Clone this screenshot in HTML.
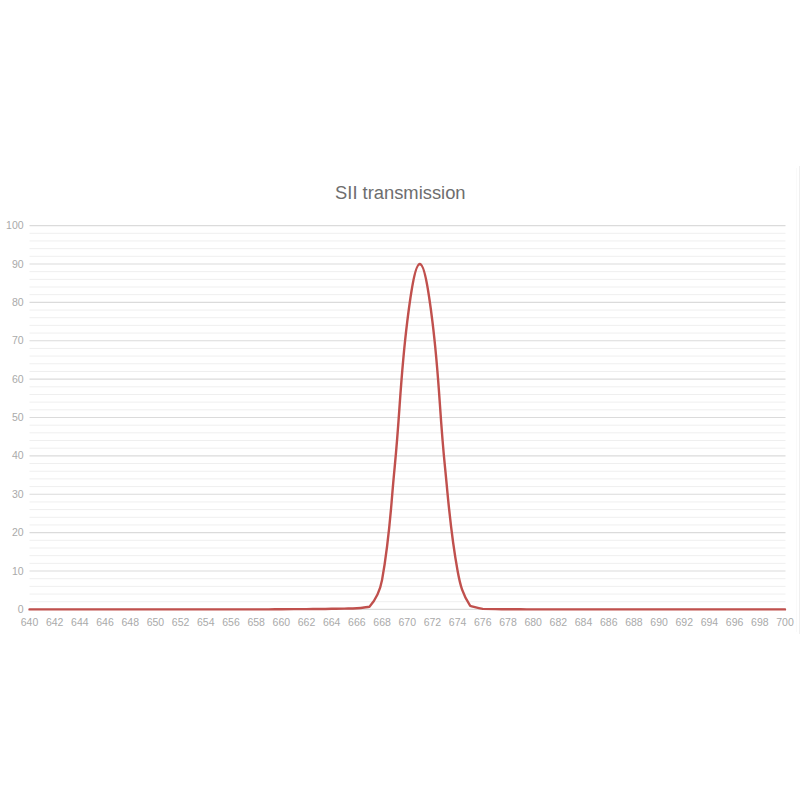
<!DOCTYPE html>
<html><head><meta charset="utf-8"><style>
html,body{margin:0;padding:0;background:#fff;width:800px;height:800px;overflow:hidden}
svg{display:block;font-family:"Liberation Sans",sans-serif}
</style></head><body>
<svg width="800" height="800" viewBox="0 0 800 800">
<rect width="800" height="800" fill="#fff"/>
<line x1="799.5" y1="166" x2="799.5" y2="634" stroke="#efefef" stroke-width="1"/>
<line x1="796.5" y1="168" x2="796.5" y2="632" stroke="#fafafa" stroke-width="1"/>
<g><line x1="29.5" y1="609.40" x2="785.5" y2="609.40" stroke="#dbdbdb" stroke-width="1.2"/>
<line x1="29.5" y1="601.72" x2="785.5" y2="601.72" stroke="#efefef" stroke-width="1.0"/>
<line x1="29.5" y1="594.05" x2="785.5" y2="594.05" stroke="#efefef" stroke-width="1.0"/>
<line x1="29.5" y1="586.37" x2="785.5" y2="586.37" stroke="#efefef" stroke-width="1.0"/>
<line x1="29.5" y1="578.70" x2="785.5" y2="578.70" stroke="#efefef" stroke-width="1.0"/>
<line x1="29.5" y1="571.02" x2="785.5" y2="571.02" stroke="#dbdbdb" stroke-width="1.2"/>
<line x1="29.5" y1="563.34" x2="785.5" y2="563.34" stroke="#efefef" stroke-width="1.0"/>
<line x1="29.5" y1="555.67" x2="785.5" y2="555.67" stroke="#efefef" stroke-width="1.0"/>
<line x1="29.5" y1="547.99" x2="785.5" y2="547.99" stroke="#efefef" stroke-width="1.0"/>
<line x1="29.5" y1="540.32" x2="785.5" y2="540.32" stroke="#efefef" stroke-width="1.0"/>
<line x1="29.5" y1="532.64" x2="785.5" y2="532.64" stroke="#dbdbdb" stroke-width="1.2"/>
<line x1="29.5" y1="524.96" x2="785.5" y2="524.96" stroke="#efefef" stroke-width="1.0"/>
<line x1="29.5" y1="517.29" x2="785.5" y2="517.29" stroke="#efefef" stroke-width="1.0"/>
<line x1="29.5" y1="509.61" x2="785.5" y2="509.61" stroke="#efefef" stroke-width="1.0"/>
<line x1="29.5" y1="501.94" x2="785.5" y2="501.94" stroke="#efefef" stroke-width="1.0"/>
<line x1="29.5" y1="494.26" x2="785.5" y2="494.26" stroke="#dbdbdb" stroke-width="1.2"/>
<line x1="29.5" y1="486.58" x2="785.5" y2="486.58" stroke="#efefef" stroke-width="1.0"/>
<line x1="29.5" y1="478.91" x2="785.5" y2="478.91" stroke="#efefef" stroke-width="1.0"/>
<line x1="29.5" y1="471.23" x2="785.5" y2="471.23" stroke="#efefef" stroke-width="1.0"/>
<line x1="29.5" y1="463.56" x2="785.5" y2="463.56" stroke="#efefef" stroke-width="1.0"/>
<line x1="29.5" y1="455.88" x2="785.5" y2="455.88" stroke="#dbdbdb" stroke-width="1.2"/>
<line x1="29.5" y1="448.20" x2="785.5" y2="448.20" stroke="#efefef" stroke-width="1.0"/>
<line x1="29.5" y1="440.53" x2="785.5" y2="440.53" stroke="#efefef" stroke-width="1.0"/>
<line x1="29.5" y1="432.85" x2="785.5" y2="432.85" stroke="#efefef" stroke-width="1.0"/>
<line x1="29.5" y1="425.18" x2="785.5" y2="425.18" stroke="#efefef" stroke-width="1.0"/>
<line x1="29.5" y1="417.50" x2="785.5" y2="417.50" stroke="#dbdbdb" stroke-width="1.2"/>
<line x1="29.5" y1="409.82" x2="785.5" y2="409.82" stroke="#efefef" stroke-width="1.0"/>
<line x1="29.5" y1="402.15" x2="785.5" y2="402.15" stroke="#efefef" stroke-width="1.0"/>
<line x1="29.5" y1="394.47" x2="785.5" y2="394.47" stroke="#efefef" stroke-width="1.0"/>
<line x1="29.5" y1="386.80" x2="785.5" y2="386.80" stroke="#efefef" stroke-width="1.0"/>
<line x1="29.5" y1="379.12" x2="785.5" y2="379.12" stroke="#dbdbdb" stroke-width="1.2"/>
<line x1="29.5" y1="371.44" x2="785.5" y2="371.44" stroke="#efefef" stroke-width="1.0"/>
<line x1="29.5" y1="363.77" x2="785.5" y2="363.77" stroke="#efefef" stroke-width="1.0"/>
<line x1="29.5" y1="356.09" x2="785.5" y2="356.09" stroke="#efefef" stroke-width="1.0"/>
<line x1="29.5" y1="348.42" x2="785.5" y2="348.42" stroke="#efefef" stroke-width="1.0"/>
<line x1="29.5" y1="340.74" x2="785.5" y2="340.74" stroke="#dbdbdb" stroke-width="1.2"/>
<line x1="29.5" y1="333.06" x2="785.5" y2="333.06" stroke="#efefef" stroke-width="1.0"/>
<line x1="29.5" y1="325.39" x2="785.5" y2="325.39" stroke="#efefef" stroke-width="1.0"/>
<line x1="29.5" y1="317.71" x2="785.5" y2="317.71" stroke="#efefef" stroke-width="1.0"/>
<line x1="29.5" y1="310.04" x2="785.5" y2="310.04" stroke="#efefef" stroke-width="1.0"/>
<line x1="29.5" y1="302.36" x2="785.5" y2="302.36" stroke="#dbdbdb" stroke-width="1.2"/>
<line x1="29.5" y1="294.68" x2="785.5" y2="294.68" stroke="#efefef" stroke-width="1.0"/>
<line x1="29.5" y1="287.01" x2="785.5" y2="287.01" stroke="#efefef" stroke-width="1.0"/>
<line x1="29.5" y1="279.33" x2="785.5" y2="279.33" stroke="#efefef" stroke-width="1.0"/>
<line x1="29.5" y1="271.66" x2="785.5" y2="271.66" stroke="#efefef" stroke-width="1.0"/>
<line x1="29.5" y1="263.98" x2="785.5" y2="263.98" stroke="#dbdbdb" stroke-width="1.2"/>
<line x1="29.5" y1="256.30" x2="785.5" y2="256.30" stroke="#efefef" stroke-width="1.0"/>
<line x1="29.5" y1="248.63" x2="785.5" y2="248.63" stroke="#efefef" stroke-width="1.0"/>
<line x1="29.5" y1="240.95" x2="785.5" y2="240.95" stroke="#efefef" stroke-width="1.0"/>
<line x1="29.5" y1="233.28" x2="785.5" y2="233.28" stroke="#efefef" stroke-width="1.0"/>
<line x1="29.5" y1="225.60" x2="785.5" y2="225.60" stroke="#dbdbdb" stroke-width="1.2"/></g>
<g font-size="10.5" fill="#aaaaaa"><text x="23.6" y="613.00" text-anchor="end">0</text>
<text x="23.6" y="574.62" text-anchor="end">10</text>
<text x="23.6" y="536.24" text-anchor="end">20</text>
<text x="23.6" y="497.86" text-anchor="end">30</text>
<text x="23.6" y="459.48" text-anchor="end">40</text>
<text x="23.6" y="421.10" text-anchor="end">50</text>
<text x="23.6" y="382.72" text-anchor="end">60</text>
<text x="23.6" y="344.34" text-anchor="end">70</text>
<text x="23.6" y="305.96" text-anchor="end">80</text>
<text x="23.6" y="267.58" text-anchor="end">90</text>
<text x="23.6" y="229.20" text-anchor="end">100</text></g>
<g font-size="10.5" fill="#aaaaaa"><text x="29.50" y="626" text-anchor="middle">640</text>
<text x="54.68" y="626" text-anchor="middle">642</text>
<text x="79.87" y="626" text-anchor="middle">644</text>
<text x="105.05" y="626" text-anchor="middle">646</text>
<text x="130.23" y="626" text-anchor="middle">648</text>
<text x="155.42" y="626" text-anchor="middle">650</text>
<text x="180.60" y="626" text-anchor="middle">652</text>
<text x="205.78" y="626" text-anchor="middle">654</text>
<text x="230.97" y="626" text-anchor="middle">656</text>
<text x="256.15" y="626" text-anchor="middle">658</text>
<text x="281.33" y="626" text-anchor="middle">660</text>
<text x="306.52" y="626" text-anchor="middle">662</text>
<text x="331.70" y="626" text-anchor="middle">664</text>
<text x="356.88" y="626" text-anchor="middle">666</text>
<text x="382.07" y="626" text-anchor="middle">668</text>
<text x="407.25" y="626" text-anchor="middle">670</text>
<text x="432.43" y="626" text-anchor="middle">672</text>
<text x="457.62" y="626" text-anchor="middle">674</text>
<text x="482.80" y="626" text-anchor="middle">676</text>
<text x="507.98" y="626" text-anchor="middle">678</text>
<text x="533.17" y="626" text-anchor="middle">680</text>
<text x="558.35" y="626" text-anchor="middle">682</text>
<text x="583.53" y="626" text-anchor="middle">684</text>
<text x="608.72" y="626" text-anchor="middle">686</text>
<text x="633.90" y="626" text-anchor="middle">688</text>
<text x="659.08" y="626" text-anchor="middle">690</text>
<text x="684.27" y="626" text-anchor="middle">692</text>
<text x="709.45" y="626" text-anchor="middle">694</text>
<text x="734.63" y="626" text-anchor="middle">696</text>
<text x="759.82" y="626" text-anchor="middle">698</text>
<text x="785.00" y="626" text-anchor="middle">700</text></g>
<text x="400.3" y="199.3" text-anchor="middle" font-size="18.35" fill="#6e6e6e">SII transmission</text>
<path d="M29.50 609.40 C34.54 609.40 37.05 609.40 42.09 609.40 C47.13 609.40 49.65 609.40 54.68 609.40 C59.72 609.40 62.24 609.40 67.28 609.40 C72.31 609.40 74.83 609.40 79.87 609.40 C84.90 609.40 87.42 609.40 92.46 609.40 C97.50 609.40 100.01 609.40 105.05 609.40 C110.09 609.40 112.61 609.40 117.64 609.40 C122.68 609.40 125.20 609.40 130.23 609.40 C135.27 609.40 137.79 609.40 142.82 609.40 C147.86 609.40 150.38 609.40 155.42 609.40 C160.45 609.40 162.97 609.40 168.01 609.40 C173.04 609.40 175.56 609.40 180.60 609.40 C185.64 609.40 188.16 609.40 193.19 609.40 C198.23 609.40 200.75 609.40 205.78 609.40 C210.82 609.40 213.34 609.40 218.38 609.40 C223.41 609.40 225.93 609.40 230.97 609.40 C236.00 609.40 238.52 609.40 243.56 609.40 C248.59 609.40 251.11 609.40 256.15 609.40 C261.19 609.40 264.96 609.40 268.74 609.40 C273.78 609.36 276.30 609.25 281.33 609.21 C285.11 609.20 288.89 609.19 293.93 609.17 C298.96 609.15 301.48 609.12 306.52 609.09 C311.55 609.06 314.07 609.07 319.11 609.02 C324.15 608.96 326.66 608.90 331.70 608.82 C336.74 608.75 339.26 608.75 344.29 608.63 C349.33 608.52 351.86 608.63 356.88 608.25 C361.94 607.86 365.70 607.17 369.48 606.71 C376.53 598.76 379.97 591.42 382.07 579.85 C390.05 535.70 390.27 512.44 394.66 467.39 C400.34 409.12 400.07 379.56 407.25 321.55 C410.14 298.20 414.80 263.98 419.84 263.98 C424.88 263.98 429.54 298.20 432.43 321.55 C439.62 379.56 439.14 409.14 445.02 467.39 C449.22 508.93 450.19 530.14 457.62 571.02 C460.26 585.56 462.74 594.71 470.21 605.95 C473.99 606.83 477.70 608.26 482.80 608.90 C486.58 608.97 490.35 609.06 495.39 609.13 C500.43 609.20 502.95 609.21 507.98 609.25 C513.02 609.28 515.54 609.29 520.58 609.32 C525.61 609.35 528.13 609.38 533.17 609.40 C536.94 609.40 540.72 609.40 545.76 609.40 C550.79 609.40 553.31 609.40 558.35 609.40 C563.39 609.40 565.91 609.40 570.94 609.40 C575.98 609.40 578.50 609.40 583.53 609.40 C588.57 609.40 591.09 609.40 596.12 609.40 C601.16 609.40 603.68 609.40 608.72 609.40 C613.75 609.40 616.27 609.40 621.31 609.40 C626.34 609.40 628.86 609.40 633.90 609.40 C638.94 609.40 641.46 609.40 646.49 609.40 C651.53 609.40 654.05 609.40 659.08 609.40 C664.12 609.40 666.64 609.40 671.67 609.40 C676.71 609.40 679.23 609.40 684.27 609.40 C689.30 609.40 691.82 609.40 696.86 609.40 C701.89 609.40 704.41 609.40 709.45 609.40 C714.49 609.40 717.00 609.40 722.04 609.40 C727.08 609.40 729.60 609.40 734.63 609.40 C739.67 609.40 742.19 609.40 747.23 609.40 C752.26 609.40 754.78 609.40 759.82 609.40 C764.85 609.40 767.37 609.40 772.41 609.40 C777.44 609.40 779.96 609.40 785.00 609.40" fill="none" stroke="#c0504d" stroke-width="2.4" stroke-linejoin="round" stroke-linecap="round"/>
</svg>
</body></html>
